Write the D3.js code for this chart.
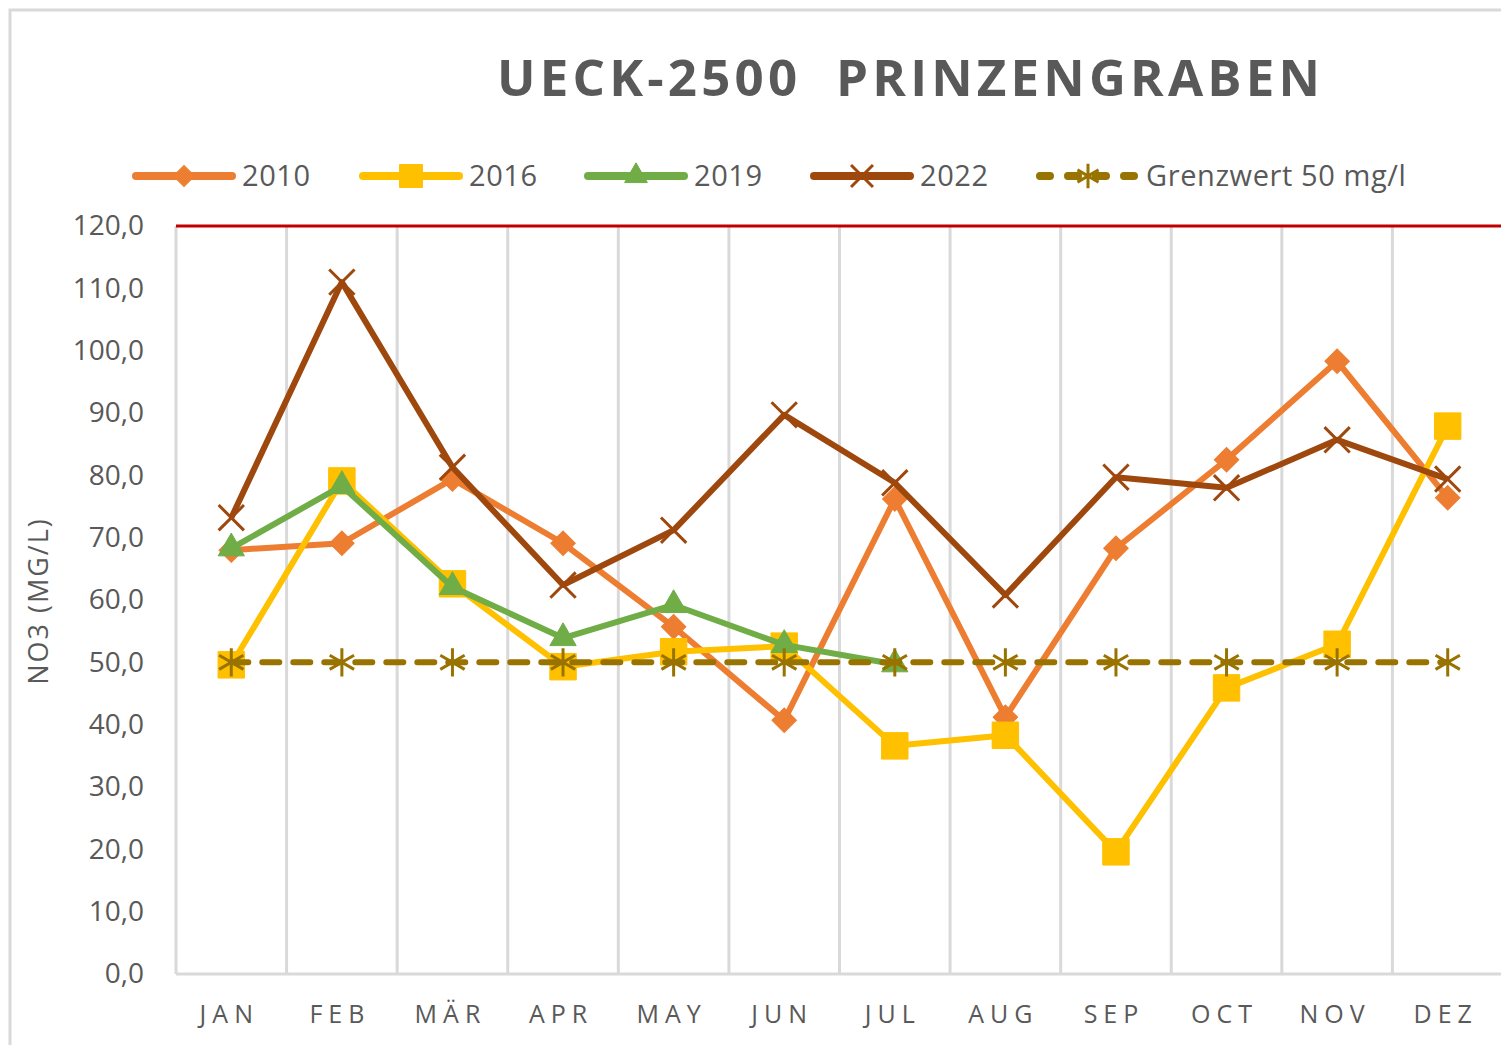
<!DOCTYPE html>
<html>
<head>
<meta charset="utf-8">
<script src="https://cdn.jsdelivr.net/npm/d3@7"></script>
<style>
  body { margin: 0; background: #fff; }
  svg { display: block; font-family: "Open Sans", "Noto Sans", sans-serif; }
</style>
</head>
<body>
<div id="graph"></div>
<script>
// data
const months = ["JAN", "FEB", "MÄR", "APR", "MAY", "JUN", "JUL", "AUG", "SEP", "OCT", "NOV", "DEZ"];
const v2010 = [68.0, 69.1, 79.4, 69.1, 55.7, 40.7, 76.2, 41.2, 68.3, 82.5, 98.3, 76.4];
const v2016 = [49.6, 79.1, 62.6, 49.3, 51.7, 52.6, 36.6, 38.3, 19.6, 45.9, 52.9, 87.9];
const v2019 = [68.3, 78.3, 62.1, 53.9, 59.2, 52.8, 49.7, null, null, null, null, null];
const v2022 = [73.2, 111.0, 81.3, 62.4, 71.2, 89.7, 78.8, 60.8, 79.7, 78.0, 85.7, 79.4];
const grenzwert = [50, 50, 50, 50, 50, 50, 50, 50, 50, 50, 50, 50];
const yTicks = [0, 10, 20, 30, 40, 50, 60, 70, 80, 90, 100, 110, 120];

const series = [
  { name: "2010", values: v2010, color: "#ED7D31", symbol: d3.symbolSquare, rot: 45, size: 300, fill: true },
  { name: "2016", values: v2016, color: "#FFC000", symbol: d3.symbolSquare, rot: 0, size: 700, fill: true },
  { name: "2019", values: v2019, color: "#70AD47", symbol: d3.symbolTriangle, rot: 0, size: 300, fill: true },
  { name: "2022", values: v2022, color: "#9E480E", symbol: d3.symbolX, rot: 0, size: 420, fill: false },
  { name: "Grenzwert 50 mg/l", values: grenzwert, color: "#997300", symbol: d3.symbolAsterisk, rot: 0, size: 560, fill: false, dash: "17,14" }
];

const W = 1501, H = 1045;
const margin = { left: 176, right: 1503, top: 226, bottom: 974 };

const svg = d3.select("#graph").append("svg")
  .attr("width", W).attr("height", H);

// chart frame
svg.append("path")
  .attr("d", `M10,${H} L10,10 L${W},10`)
  .attr("fill", "none").attr("stroke", "#D9D9D9").attr("stroke-width", 3);

const x = d3.scaleBand().domain(months).range([margin.left, margin.right]);
const y = d3.scaleLinear().domain([0, 120]).range([margin.bottom, margin.top]);

// vertical grid lines at category boundaries
const bounds = months.map(m => x(m)).concat([margin.right]);
svg.append("g").selectAll("line").data(bounds).enter().append("line")
  .attr("x1", d => d).attr("x2", d => d)
  .attr("y1", margin.top).attr("y2", margin.bottom)
  .attr("stroke", "#D9D9D9").attr("stroke-width", 3);

// category axis line
svg.append("line")
  .attr("x1", margin.left).attr("x2", W).attr("y1", margin.bottom).attr("y2", margin.bottom)
  .attr("stroke", "#D9D9D9").attr("stroke-width", 3);

// red line at the top of the value axis
svg.append("line")
  .attr("x1", margin.left).attr("x2", W).attr("y1", y(120)).attr("y2", y(120))
  .attr("stroke", "#C00000").attr("stroke-width", 3);

// y axis labels
const yAxis = d3.axisLeft(y).tickValues(yTicks).tickSize(0).tickPadding(0)
  .tickFormat(d => d3.format(".1f")(d).replace(".", ","));
svg.append("g")
  .attr("transform", `translate(144,0)`)
  .call(yAxis)
  .call(g => g.select(".domain").remove())
  .call(g => g.selectAll("text")
    .attr("fill", "#595959").style("font-size", "28px")
    .attr("font-family", "'Open Sans', sans-serif"));

// x axis labels
const xAxis = d3.axisBottom(x).tickSize(0).tickPadding(0);
svg.append("g")
  .attr("transform", `translate(-2,${margin.bottom + 31})`)
  .call(xAxis)
  .call(g => g.select(".domain").remove())
  .call(g => g.selectAll("text")
    .attr("fill", "#595959").style("font-size", "25px")
    .attr("font-family", "'Open Sans', sans-serif")
    .style("letter-spacing", "6px"));

// y axis title
svg.append("text")
  .attr("transform", `translate(48,601) rotate(-90)`)
  .attr("text-anchor", "middle")
  .attr("fill", "#595959")
  .style("font-size", "27px")
  .style("letter-spacing", "2px")
  .text("NO3 (MG/L)");

// title
svg.append("text")
  .attr("x", 497).attr("y", 96)
  .attr("textLength", 823).attr("lengthAdjust", "spacing")
  .attr("fill", "#595959")
  .style("font-size", "51px").style("font-weight", "bold")
  .style("white-space", "pre")
  .text("UECK-2500  PRINZENGRABEN");

// lines and markers
const line = d3.line()
  .defined(d => d.v != null)
  .x(d => x(d.m) + x.bandwidth() / 2)
  .y(d => y(d.v));

function drawMarkers(g, s, pts) {
  g.selectAll("path.mk").data(pts).enter().append("path")
    .attr("class", "mk")
    .attr("transform", d => `translate(${x(d.m) + x.bandwidth() / 2},${y(d.v)}) rotate(${s.rot})`)
    .attr("d", d3.symbol(s.symbol, s.size))
    .attr("fill", s.fill ? s.color : "none")
    .attr("stroke", s.color)
    .attr("stroke-width", s.fill ? 1 : 3);
}

series.forEach(s => {
  const pts = s.values.map((v, i) => ({ m: months[i], v: v }));
  const g = svg.append("g");
  g.append("path")
    .datum(pts)
    .attr("d", line)
    .attr("fill", "none")
    .attr("stroke", s.color)
    .attr("stroke-width", 6)
    .attr("stroke-linecap", s.dash ? "round" : "butt")
    .attr("stroke-linejoin", "round")
    .attr("stroke-dasharray", s.dash || null);
  drawMarkers(g, s, pts.filter(d => d.v != null));
});

// legend
const legendX = [136, 363, 588, 814, 1040];
const legend = svg.append("g");
series.forEach((s, i) => {
  const g = legend.append("g").attr("transform", `translate(${legendX[i]},176)`);
  g.append("line")
    .attr("x1", 0).attr("x2", 96).attr("y1", 0).attr("y2", 0)
    .attr("stroke", s.color).attr("stroke-width", 8)
    .attr("stroke-linecap", "round")
    .attr("stroke-dasharray", s.dash ? "10,18" : null);
  g.append("path")
    .attr("transform", `translate(48,0) rotate(${s.rot})`)
    .attr("d", d3.symbol(s.symbol, s.size * 0.75))
    .attr("fill", s.fill ? s.color : "none")
    .attr("stroke", s.color)
    .attr("stroke-width", s.fill ? 1 : 3);
  g.append("text")
    .attr("x", 106).attr("y", 10)
    .attr("fill", "#595959")
    .style("font-size", "29px")
    .style("letter-spacing", "0.6px")
    .text(s.name);
});
</script>
</body>
</html>
